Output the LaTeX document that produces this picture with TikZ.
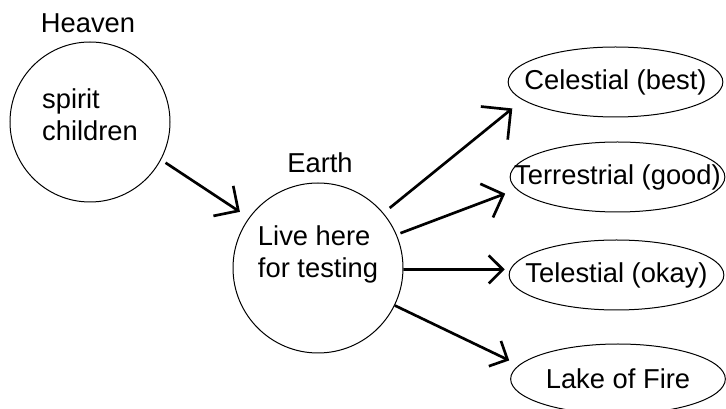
\documentclass[tikz,border=0pt]{standalone}
\usepackage{fontspec}
\setmainfont{Liberation Sans}
\usetikzlibrary{arrows.meta,shapes.geometric}

\tikzset{every picture/.style={line width=0.75pt}}
\tikzset{
  place/.style={draw, circle, inner sep=0pt},
  fate/.style={draw, ellipse, inner sep=0pt, minimum width=161pt, minimum height=52.5pt},
  flow/.style={line width=2pt, -{Straight Barb[length=#1, width'=0pt 2]}},
  flow/.default=10.5pt,
  every node/.append style={font=\fontsize{20.5}{24}\selectfont}
}

\begin{document}
\begin{tikzpicture}[x=0.75pt,y=0.75pt,yscale=-1,xscale=1]
\useasboundingbox (0,0) rectangle (726,409);

%Shape: Circle [heaven]
\node [place, minimum size=120pt] (heaven) at (90,122) {};
%Shape: Circle [earth]
\node [place, minimum size=127.5pt] (earth) at (318,268) {};

%Shape: Ellipse [fates]
\node [fate, label=center:{Celestial (best)}] (celestial) at (615.5,82) {};
\node [fate, label=center:{Terrestrial (good)}] (terrestrial) at (617.5,177) {};
\node [fate, label=center:{Telestial (okay)}] (telestial) at (616.5,275) {};
\node [fate, label=center:{Lake of Fire}] (lake) at (618,379) {};

% Text Node
\node [anchor=base] (heavenlbl) at (88,33) {Heaven};
% Text Node
\node [anchor=base] (earthlbl) at (320,173) {Earth};
% Text Node
\node [align=left, inner sep=0pt] (spirit) at (90,115) {spirit\\children};
% Text Node
\node [align=left, inner sep=0pt] (testing) at (318,254) {Live here\\for testing};

%Straight Lines
\draw [flow=13.5pt, shorten <=4pt, shorten >=8pt] (heaven.-28) -- (earth.144);
\draw [flow=16pt, shorten <=6pt, shorten >=10pt] (earth.40) -- (celestial.191);
\draw [flow=13.5pt, shorten <=3pt, shorten >=9pt] (earth.23) -- (terrestrial.187);
\draw [flow, shorten >=4pt] (earth.359) -- (telestial.177);
\draw [flow, shorten >=8pt] (earth.-26) -- (lake.172);

\end{tikzpicture}
\end{document}
